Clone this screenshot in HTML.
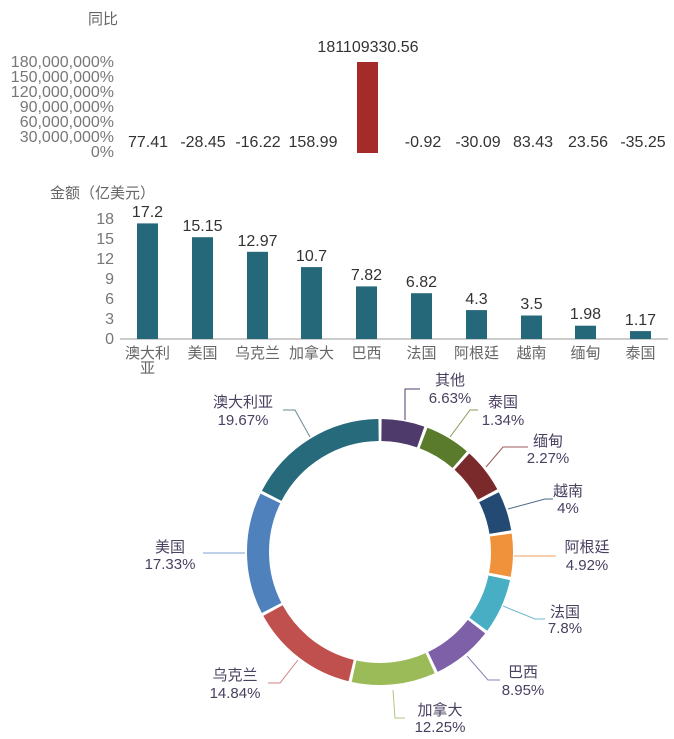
<!DOCTYPE html>
<html><head><meta charset="utf-8"><style>
html,body{margin:0;padding:0;background:#fff;}
svg{display:block;font-family:"Liberation Sans","Noto Sans CJK SC",sans-serif;}
</style></head><body>
<svg width="674" height="739" viewBox="0 0 674 739" xmlns="http://www.w3.org/2000/svg">
<text x="88" y="24" font-size="15" fill="#666">同比</text>
<g font-size="16" fill="#777" text-anchor="end">
<text x="114" y="67">180,000,000%</text>
<text x="114" y="82">150,000,000%</text>
<text x="114" y="97">120,000,000%</text>
<text x="114" y="112">90,000,000%</text>
<text x="114" y="127">60,000,000%</text>
<text x="114" y="142">30,000,000%</text>
<text x="114" y="157">0%</text>
</g>
<rect x="357" y="62" width="21" height="91" fill="#a52a2a"/>
<g font-size="16" fill="#333" text-anchor="middle">
<text x="368" y="52">181109330.56</text>
<text x="148" y="147">77.41</text>
<text x="203" y="147">-28.45</text>
<text x="258" y="147">-16.22</text>
<text x="313" y="147">158.99</text>
<text x="423" y="147">-0.92</text>
<text x="478" y="147">-30.09</text>
<text x="533" y="147">83.43</text>
<text x="588" y="147">23.56</text>
<text x="643" y="147">-35.25</text>
</g>
<text x="50" y="198" font-size="15" fill="#666">金额（亿美元）</text>
<g font-size="16" fill="#777" text-anchor="end">
<text x="114" y="224">18</text>
<text x="114" y="244">15</text>
<text x="114" y="264">12</text>
<text x="114" y="284">9</text>
<text x="114" y="304">6</text>
<text x="114" y="324">3</text>
<text x="114" y="344">0</text>
</g>
<line x1="120" y1="339" x2="668" y2="339" stroke="#999" stroke-width="1"/>
<g fill="#25687a">
<rect x="137" y="223.4" width="21" height="115.6"/>
<rect x="192" y="237.2" width="21" height="101.8"/>
<rect x="247" y="251.8" width="21" height="87.2"/>
<rect x="301" y="267.1" width="21" height="71.9"/>
<rect x="356" y="286.4" width="21" height="52.6"/>
<rect x="411" y="293.2" width="21" height="45.8"/>
<rect x="466" y="310.1" width="21" height="28.9"/>
<rect x="521" y="315.5" width="21" height="23.5"/>
<rect x="575" y="325.7" width="21" height="13.3"/>
<rect x="630" y="331.1" width="21" height="7.9"/>
</g>
<g font-size="16" fill="#333" text-anchor="middle">
<text x="147.5" y="217">17.2</text>
<text x="202.5" y="231">15.15</text>
<text x="257.5" y="246">12.97</text>
<text x="311.5" y="261">10.7</text>
<text x="366.5" y="280">7.82</text>
<text x="421.5" y="287">6.82</text>
<text x="476.5" y="304">4.3</text>
<text x="531.5" y="309">3.5</text>
<text x="585.5" y="319">1.98</text>
<text x="640.5" y="325">1.17</text>
</g>
<g font-size="15" fill="#666" text-anchor="middle">
<text x="147.5" y="358">澳大利</text>
<text x="147.5" y="373">亚</text>
<text x="202.5" y="358">美国</text>
<text x="257.5" y="358">乌克兰</text>
<text x="311.5" y="358">加拿大</text>
<text x="366.5" y="358">巴西</text>
<text x="421.5" y="358">法国</text>
<text x="476.5" y="358">阿根廷</text>
<text x="531.5" y="358">越南</text>
<text x="585.5" y="358">缅甸</text>
<text x="640.5" y="358">泰国</text>
</g>
<g fill="none" stroke-width="22">
<circle cx="380" cy="552" r="122" stroke="#4f3b6b" stroke-dasharray="40.0 1000" transform="rotate(-89.3 380 552)"/>
<circle cx="380" cy="552" r="122" stroke="#5a7a2c" stroke-dasharray="42.4 1000" transform="rotate(-69.1 380 552)"/>
<circle cx="380" cy="552" r="122" stroke="#7a2a2a" stroke-dasharray="41.9 1000" transform="rotate(-47.8 380 552)"/>
<circle cx="380" cy="552" r="122" stroke="#234a72" stroke-dasharray="36.8 1000" transform="rotate(-26.7 380 552)"/>
<circle cx="380" cy="552" r="122" stroke="#f0923c" stroke-dasharray="40.0 1000" transform="rotate(-8.0 380 552)"/>
<circle cx="380" cy="552" r="122" stroke="#47aec4" stroke-dasharray="51.3 1000" transform="rotate(12.2 380 552)"/>
<circle cx="380" cy="552" r="122" stroke="#7e60a8" stroke-dasharray="56.6 1000" transform="rotate(37.7 380 552)"/>
<circle cx="380" cy="552" r="122" stroke="#9bbb59" stroke-dasharray="77.9 1000" transform="rotate(65.7 380 552)"/>
<circle cx="380" cy="552" r="122" stroke="#c0504d" stroke-dasharray="101.3 1000" transform="rotate(103.7 380 552)"/>
<circle cx="380" cy="552" r="122" stroke="#4f81bd" stroke-dasharray="113.5 1000" transform="rotate(152.7 380 552)"/>
<circle cx="380" cy="552" r="122" stroke="#266a7c" stroke-dasharray="131.8 1000" transform="rotate(207.4 380 552)"/>
</g>
<g fill="none" stroke-width="1">
<polyline points="405,420 405,389 420,389" stroke="#4f3b6b"/>
<polyline points="450,437 470,410 478,410" stroke="#8a9a5a"/>
<polyline points="486,467 503,447 528,447" stroke="#9a5a5a"/>
<polyline points="508,509 545,499 553,499" stroke="#4a6a8a"/>
<polyline points="514,556 556,556" stroke="#f0a060"/>
<polyline points="503,606 535,619 545,619" stroke="#70b8cc"/>
<polyline points="467,656 488,680 500,680" stroke="#9080b0"/>
<polyline points="393,690 395,718 405,718" stroke="#b0c880"/>
<polyline points="298,660 280,683 268,683" stroke="#d08080"/>
<polyline points="245,553 203,553" stroke="#80a0d0"/>
<polyline points="310,437 295,410 283,410" stroke="#6a8a90"/>
</g>
<g font-size="15" fill="#4a4060" text-anchor="middle">
<text x="450" y="385">其他</text><text x="450" y="403">6.63%</text>
<text x="503" y="407">泰国</text><text x="503" y="425">1.34%</text>
<text x="548" y="446">缅甸</text><text x="548" y="463">2.27%</text>
<text x="568" y="496">越南</text><text x="568" y="513">4%</text>
<text x="587" y="552">阿根廷</text><text x="587" y="570">4.92%</text>
<text x="565" y="617">法国</text><text x="565" y="633">7.8%</text>
<text x="523" y="677">巴西</text><text x="523" y="695">8.95%</text>
<text x="440" y="715">加拿大</text><text x="440" y="732">12.25%</text>
<text x="235" y="680">乌克兰</text><text x="235" y="698">14.84%</text>
<text x="170" y="552">美国</text><text x="170" y="569">17.33%</text>
<text x="243" y="407">澳大利亚</text><text x="243" y="425">19.67%</text>
</g>
</svg>
</body></html>
